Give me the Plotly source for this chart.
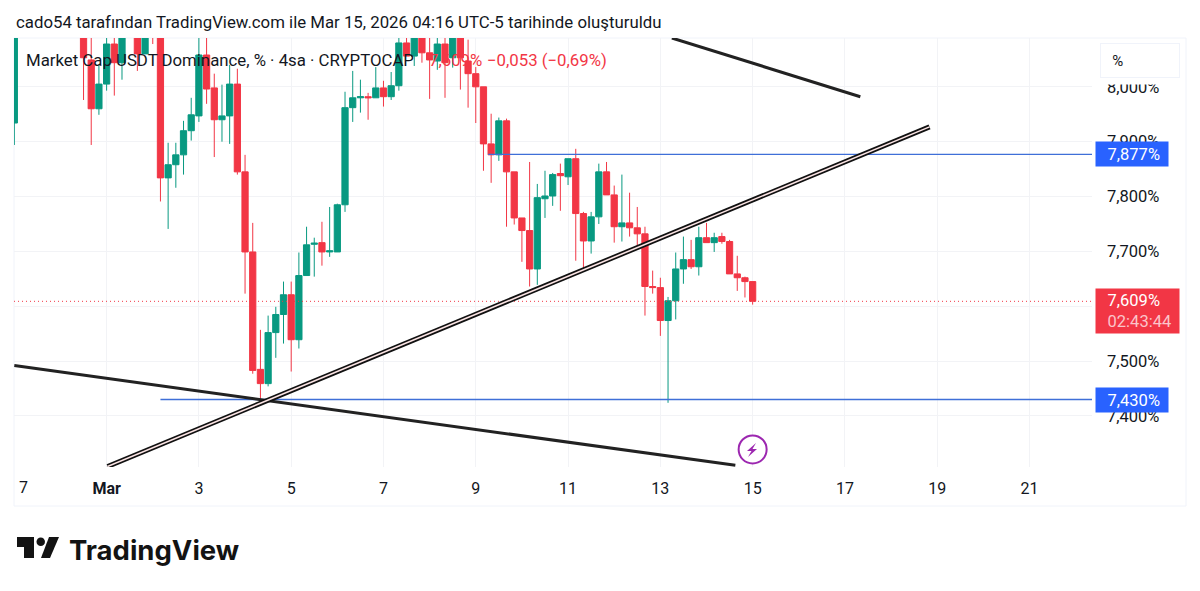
import pandas as pd
import plotly.graph_objects as go

# 4h candles from Feb 27 00:00 to Mar 15 00:00
# None = candle sits above the visible price range
times = pd.date_range("2026-02-27 00:00", "2026-03-15 00:00", freq="4h")

opens = [7.934, None, None, None, None, None, None, None, None,
         8.120, 8.049, 7.960, 8.005, 8.078, 8.044, None, 8.120, 8.060, 8.130, 8.110,
         7.834, 7.858, 7.876, 7.920, 7.947, 8.058, 7.998, 7.940, 7.947, 8.005,
         7.845, 7.699, 7.485, 7.459, 7.552, 7.585, 7.621, 7.539, 7.656, 7.713,
         7.716, 7.699, 7.699, 7.785, 7.962, 7.980, 7.982, 7.980, 7.998, 7.982,
         8.002, 8.080, 8.056, 8.110, 8.062, 8.047, 8.078, 8.053, 8.110, 8.047,
         8.024, 8.000, 7.896, 7.876, 7.938, 7.845, 7.761, 7.738, 7.668, 7.796,
         7.801, 7.842, 7.836, 7.869, 7.769, 7.719, 7.763, 7.845, 7.803, 7.745,
         7.752, 7.743, 7.732, 7.636, 7.634, 7.574, 7.610, 7.668, 7.685, 7.672,
         7.725, 7.716, 7.727, 7.718, 7.659, 7.652, 7.645]
highs = [8.130, None, None, None, None, None, None, None, None,
         8.130, 8.100, 8.040, 8.100, 8.100, 8.120, None, 8.130, 8.120, 8.140, 8.120,
         7.898, 7.898, 7.938, 7.980, 8.100, 8.100, 8.024, 8.004, 8.040, 8.033,
         7.876, 7.752, 7.557, 7.583, 7.599, 7.645, 7.645, 7.698, 7.745, 7.725,
         7.754, 7.781, 7.787, 7.991, 8.029, 8.013, 7.989, 8.036, 8.011, 8.027,
         8.100, 8.100, 8.120, 8.120, 8.090, 8.100, 8.100, 8.120, 8.120, 8.086,
         8.036, 8.000, 7.951, 7.944, 7.942, 7.845, 7.761, 7.863, 7.823, 7.847,
         7.843, 7.860, 7.869, 7.887, 7.772, 7.772, 7.860, 7.863, 7.820, 7.840,
         7.807, 7.781, 7.745, 7.665, 7.652, 7.617, 7.698, 7.727, 7.721, 7.745,
         7.752, 7.734, 7.734, 7.721, 7.692, 7.654, 7.645]
lows = [7.894, None, None, None, None, None, None, None, None,
        7.976, 7.894, 7.949, 7.993, 7.984, 8.013, None, 8.029, 8.060, 8.078, 7.791,
        7.741, 7.816, 7.840, 7.902, 7.936, 7.969, 7.872, 7.900, 7.896, 7.840,
        7.623, 7.477, 7.430, 7.454, 7.506, 7.532, 7.481, 7.523, 7.656, 7.654,
        7.674, 7.690, 7.699, 7.772, 7.936, 7.953, 7.940, 7.980, 7.964, 7.976,
        7.993, 8.056, 8.038, 8.044, 7.978, 8.031, 7.980, 8.035, 7.995, 7.962,
        7.934, 7.847, 7.825, 7.865, 7.745, 7.749, 7.681, 7.636, 7.639, 7.761,
        7.783, 7.774, 7.821, 7.683, 7.668, 7.696, 7.750, 7.803, 7.716, 7.718,
        7.727, 7.710, 7.583, 7.623, 7.546, 7.424, 7.576, 7.641, 7.668, 7.656,
        7.716, 7.699, 7.714, 7.659, 7.628, 7.616, 7.603]
closes = [8.120, None, None, None, None, None, None, None, None,
          8.053, 7.960, 8.005, 8.078, 8.044, 8.110, None, 8.060, 8.110, 8.100, 7.834,
          7.858, 7.876, 7.920, 7.949, 8.058, 7.996, 7.940, 7.947, 8.005, 7.845,
          7.699, 7.483, 7.459, 7.552, 7.585, 7.621, 7.539, 7.656, 7.712, 7.715,
          7.699, 7.701, 7.785, 7.962, 7.980, 7.982, 7.980, 7.998, 7.982, 8.002,
          8.080, 8.056, 8.110, 8.062, 8.049, 8.078, 8.044, 8.110, 8.053, 8.024,
          8.000, 7.896, 7.876, 7.938, 7.845, 7.761, 7.738, 7.668, 7.798, 7.801,
          7.840, 7.838, 7.869, 7.769, 7.719, 7.763, 7.845, 7.803, 7.745, 7.752,
          7.743, 7.732, 7.636, 7.634, 7.574, 7.610, 7.668, 7.685, 7.672, 7.725,
          7.716, 7.725, 7.718, 7.659, 7.652, 7.645, 7.609]

# drawn lines
upper_x = ["2026-03-13 06:00", "2026-03-17 08:00"]
upper_y = [8.089, 7.982]
lower_x = ["2026-02-27 00:00", "2026-03-14 15:00"]
lower_y = [7.492, 7.310]
channel_x = ["2026-03-01 00:30", "2026-03-18 20:00"]
channel_y = [7.308, 7.927]
res_x = ["2026-03-09 06:30", "2026-03-22 08:30"]
res_y = [7.877, 7.877]
sup_x = ["2026-03-02 04:00", "2026-03-22 08:30"]
sup_y = [7.430, 7.430]
last_x = ["2026-02-26 23:50", "2026-03-22 08:30"]
last_y = [7.609, 7.609]

y_ticks = [7.4, 7.5, 7.6, 7.7, 7.8, 7.9, 8.0]
y_labels = ["7,400%", "7,500%", "7,600%", "7,700%", "7,800%", "7,900%", "8,000%"]
x_ticks = ["2026-02-27", "2026-03-01", "2026-03-03", "2026-03-05", "2026-03-07", "2026-03-09", "2026-03-11",
           "2026-03-13", "2026-03-15", "2026-03-17", "2026-03-19", "2026-03-21"]
x_labels = ["", "<b>Mar</b>", "3", "5", "7", "9", "11", "13", "15", "17", "19", "21"]

GREEN = "#089981"
RED = "#f23645"
BLUE = "#2962ff"
DARK = "#131722"
FONT = "Roboto"
PAD = "\u00a0\u00a0\u2009"  # left padding inside the price labels

# plot box in page pixels
LEFT, RIGHT, TOP, BOTTOM = 14, 1092, 38, 467


def px_x(x):
    return (x - LEFT) / (RIGHT - LEFT)


def px_y(y):
    return (BOTTOM - y) / (BOTTOM - TOP)


fig = go.Figure()


def add_line(x, y, color, width, dash="solid"):
    fig.add_trace(go.Scatter(x=x, y=y, mode="lines", line=dict(color=color, width=width, dash=dash),
                             hoverinfo="skip", showlegend=False))


add_line(last_x, last_y, RED, 1, "1px,3px")
fig.add_trace(go.Candlestick(x=times, open=opens, high=highs, low=lows, close=closes,
                             increasing=dict(line=dict(color=GREEN, width=1), fillcolor=GREEN),
                             decreasing=dict(line=dict(color=RED, width=1), fillcolor=RED),
                             whiskerwidth=0, showlegend=False))
add_line(res_x, res_y, "#3f6fd8", 1.3)
add_line(sup_x, sup_y, "#3f6fd8", 1.3)
add_line(upper_x, upper_y, "#222222", 3)
add_line(lower_x, lower_y, "#222222", 3)
add_line(channel_x, channel_y, "#111111", 5)
add_line(channel_x, channel_y, "#fbe4e4", 1.6)

# lightning badge
fig.add_trace(go.Scatter(x=["2026-03-15 00:00"], y=[7.339], mode="markers",
                         marker=dict(size=28, color="white", line=dict(color="#9c27b0", width=2)),
                         hoverinfo="skip", showlegend=False))

fig.update_xaxes(type="date", range=["2026-02-26 23:50", "2026-03-22 08:30"], rangeslider_visible=False,
                 tickmode="array", tickvals=x_ticks, ticktext=x_labels, ticks="", ticklabelstandoff=10,
                 showgrid=True, gridcolor="#f2f3f6", gridwidth=1, zeroline=False, showline=False,
                 tickfont=dict(family=FONT, size=16, color=DARK))
fig.update_yaxes(side="right", range=[7.307, 8.089], tickmode="array", tickvals=y_ticks, ticktext=y_labels,
                 ticks="", ticklabelstandoff=14, showgrid=True, gridcolor="#f2f3f6", gridwidth=1,
                 zeroline=False, showline=False, tickfont=dict(family=FONT, size=16.5, color=DARK))

annotations = [
    dict(x=px_x(15), y=px_y(22), text="cado54 tarafından TradingView.com ile Mar 15, 2026 04:16 UTC-5 tarihinde oluşturuldu",
         font=dict(size=16.8, color=DARK)),
    dict(x=px_x(25), y=px_y(60), text="Market Cap USDT Dominance, % · 4sa · CRYPTOCAP", font=dict(size=16.8, color=DARK)),
    dict(x=px_x(428), y=px_y(60), text="7,609%", font=dict(size=16.8, color=RED)),
    dict(x=px_x(486), y=px_y(60), text="−0,053 (−0,69%)", font=dict(size=16.8, color=RED)),
    dict(x=px_x(14), y=px_y(487), text="&nbsp;7", font=dict(size=16, color=DARK)),
    dict(x=px_x(68), y=px_y(550), text="<b>TradingView</b>", font=dict(family="Inter", size=27.5, color="#131313")),
    # covers the top of the 8,000% tick under the scale button
    dict(x=px_x(1100), y=px_y(80), text=" ", bgcolor="white", width=80, height=8),
    dict(x=px_x(1100), y=px_y(61), text="&nbsp;&nbsp;&nbsp;%", align="left", bgcolor="white", bordercolor="#f0f3fa",
         borderwidth=1, width=78, height=33, font=dict(size=15, color=DARK)),
]
for level, text in [(res_y[0], PAD + "7,877%"), (sup_y[0], PAD + "7,430%")]:
    annotations.append(dict(x=px_x(1095), y=level, yref="y", text=text, align="left", bgcolor=BLUE, width=72, height=24,
                            font=dict(size=16.5, color="white")))
annotations.append(dict(x=px_x(1095), y=last_y[0], yref="y", yshift=-10, align="left", bgcolor=RED, width=83, height=44,
                        text=PAD + "7,609%<br>" + PAD + "<span style='color:#fbc4ca'>02:43:44</span>",
                        font=dict(size=16.5, color="white")))
for a in annotations:
    a.setdefault("xref", "paper")
    a.setdefault("yref", "paper")
    a.setdefault("xanchor", "left")
    a.setdefault("yanchor", "middle")
    a.setdefault("showarrow", False)
    a.setdefault("borderpad", 0)


def poly(points):
    return "M" + " L".join(f"{px_x(x):.5f},{px_y(y):.5f}" for x, y in points) + " Z"


shapes = [
    # panel frame
    dict(type="rect", xref="paper", yref="paper", x0=0, x1=px_x(1186), y0=px_y(38), y1=px_y(506),
         line=dict(color="#f0f3fa", width=1), layer="below"),
    # logo
    dict(type="path", xref="paper", yref="paper", line_width=0, fillcolor="#131313",
         path=poly([(17, 537), (34, 537), (34, 558), (24, 558), (24, 547), (17, 547)])),
    dict(type="circle", xref="paper", yref="paper", line_width=0, fillcolor="#131313",
         x0=px_x(36.5), x1=px_x(45), y0=px_y(537.5), y1=px_y(546)),
    dict(type="path", xref="paper", yref="paper", line_width=0, fillcolor="#131313",
         path=poly([(49, 537), (59, 537), (50, 558), (41, 558)])),
    # bolt inside the badge
    dict(type="path", xref="paper", yref="paper", line_width=0, fillcolor="#9c27b0",
         path=poly([(756, 443), (747, 451), (751.5, 451), (748, 457), (757, 449), (752.5, 449)])),
]

fig.update_layout(width=1200, height=591, autosize=False, separators=",.", font=dict(family=FONT),
                  paper_bgcolor="white", plot_bgcolor="white", showlegend=False, boxgap=0.1, boxgroupgap=0.1,
                  margin=dict(l=LEFT, r=1200 - RIGHT, t=TOP, b=591 - BOTTOM),
                  annotations=annotations, shapes=shapes)

fig.write_html("out.html", config=dict(displayModeBar=False), post_script="document.body.style.margin='0';")
